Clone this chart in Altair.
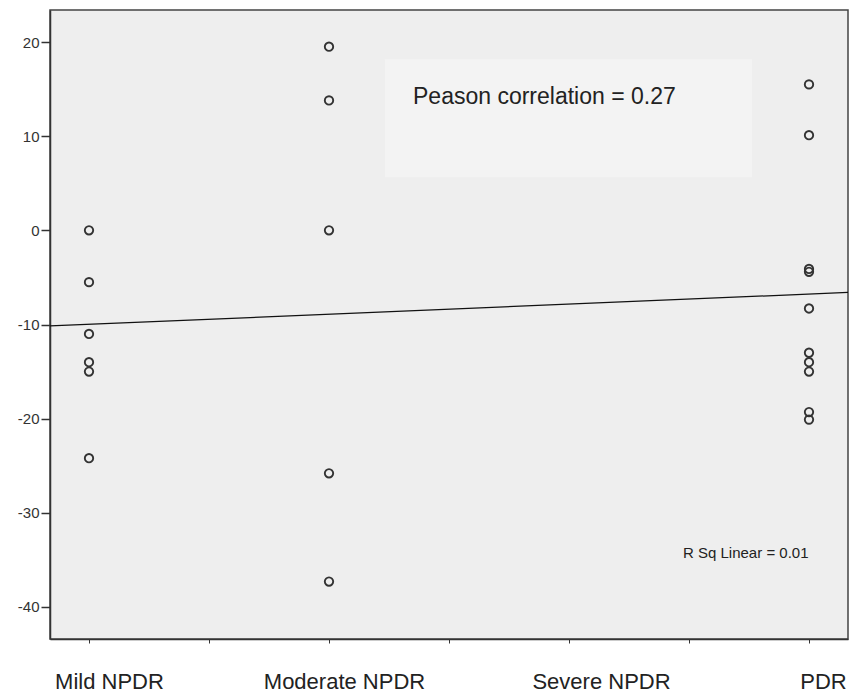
import altair as alt
import pandas as pd

categories = ["Mild NPDR", "Moderate NPDR", "Severe NPDR", "PDR"]
mild = [0, -5.5, -11, -14, -15, -24.2]
moderate = [19.5, 13.8, 0, -25.8, -37.3]
severe = []
pdr = [15.5, 10.1, -4.1, -4.4, -8.3, -13.0, -14.0, -15.0, -19.3, -20.1]

y_ticks = [-40, -30, -20, -10, 0, 10, 20]
x_ticks = [1, 1.5, 2, 2.5, 3, 3.5, 4]
x_domain = [0.8375, 4.1625]
y_domain = [-43.4, 23.4]

pearson_text = "Peason correlation = 0.27"
rsq_text = "R Sq Linear = 0.01"
box_x = [2.233, 3.7625]
box_y = [18.17, 5.63]

rows = []
for i, vals in enumerate([mild, moderate, severe, pdr], start=1):
    for v in vals:
        rows.append({"grade": i, "change": v})
df = pd.DataFrame(rows)

label_expr = " : ".join(
    [f"datum.value == {i+1} ? '{c}'" for i, c in enumerate(categories)]
) + " : ''"

xscale = alt.Scale(domain=x_domain, nice=False, zero=False)
yscale = alt.Scale(domain=y_domain, nice=False, zero=False)

FONT = "Liberation Sans"

xaxis = alt.Axis(
    values=x_ticks, labelExpr=label_expr, title=None, grid=False,
    tickSize=4, tickColor="#333", domainColor="#333", domainWidth=1.5,
    labelFont=FONT, labelFontSize=22, labelColor="#222", labelPadding=28,
    labelOverlap=False, labelFlush=False,
    labelOffset={"condition": [
        {"test": "datum.value == 1", "value": 20},
        {"test": "datum.value == 2", "value": 15},
        {"test": "datum.value == 3", "value": 32},
    ], "value": 14},
)
yaxis = alt.Axis(
    values=y_ticks, title=None, grid=False, tickSize=9, tickColor="#333",
    tickWidth=1.5, domainColor="#333", domainWidth=1.5,
    labelExpr="datum.value + ''",
    labelFont=FONT, labelFontSize=15, labelColor="#333", labelPadding=2,
)

points = alt.Chart(df).mark_point(
    shape="circle", filled=False, stroke="#333", strokeWidth=1.9, size=70,
    opacity=1
).encode(
    x=alt.X("grade:Q", scale=xscale, axis=xaxis),
    y=alt.Y("change:Q", scale=yscale, axis=yaxis),
)

reg = alt.Chart(df).transform_regression(
    "grade", "change", extent=x_domain
).mark_line(color="#111", strokeWidth=1.2).encode(
    x=alt.X("grade:Q", scale=xscale),
    y=alt.Y("change:Q", scale=yscale),
)

box_df = pd.DataFrame([{"x": box_x[0], "x2": box_x[1], "y": box_y[0], "y2": box_y[1]}])
box = alt.Chart(box_df).mark_rect(fill="#f3f3f3").encode(
    x=alt.X("x:Q", scale=xscale), x2="x2:Q",
    y=alt.Y("y:Q", scale=yscale), y2="y2:Q",
)

txt_df = pd.DataFrame([{"x": 2.35, "y": 13.39, "t": pearson_text}])
txt = alt.Chart(txt_df).mark_text(
    align="left", baseline="alphabetic", fontSize=23, font=FONT, color="#222"
).encode(
    x=alt.X("x:Q", scale=xscale), y=alt.Y("y:Q", scale=yscale), text="t:N"
)

rsq_df = pd.DataFrame([{"x": 3.475, "y": -34.75, "t": rsq_text}])
rsq = alt.Chart(rsq_df).mark_text(
    align="left", baseline="alphabetic", fontSize=15, font=FONT, color="#222"
).encode(
    x=alt.X("x:Q", scale=xscale), y=alt.Y("y:Q", scale=yscale), text="t:N"
)

chart = alt.layer(box, txt, rsq, reg, points).properties(
    width=798, height=629,
    autosize="none",
    padding={"left": 50, "top": 10, "right": 1, "bottom": 56},
    background="white",
).configure_view(
    fill="#eeeeee", stroke="#444", strokeWidth=1.5
)

chart.save("out.html", embed_options={"renderer": "svg", "actions": False})
